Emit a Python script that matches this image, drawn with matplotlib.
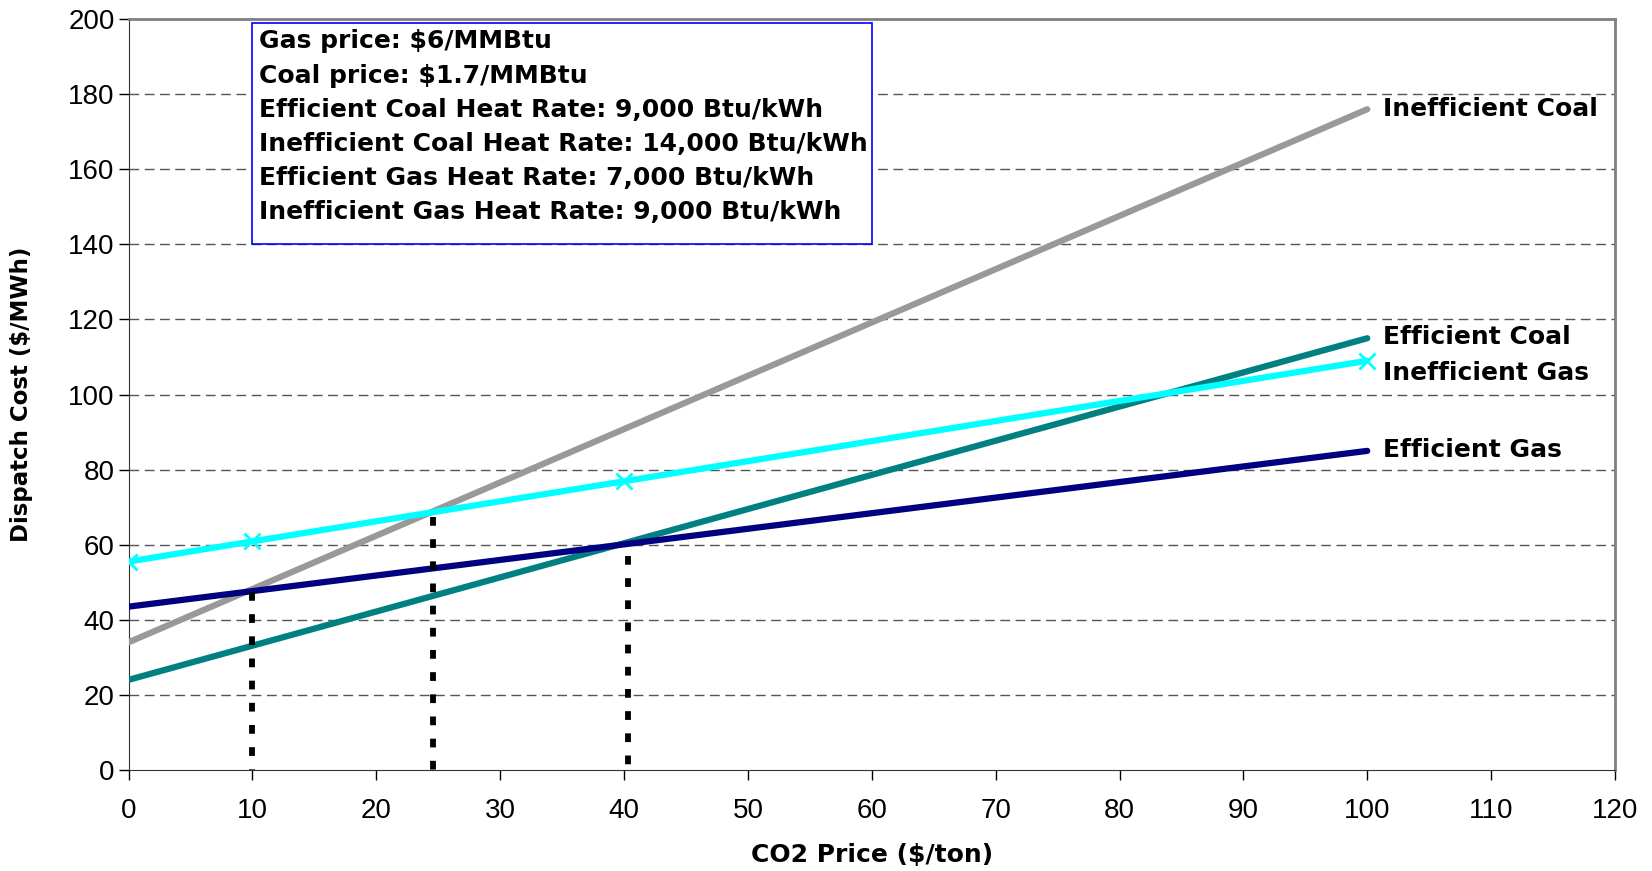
import matplotlib
matplotlib.use("Agg")
import matplotlib.pyplot as plt
from matplotlib.patches import Rectangle

plt.rcParams['font.family'] = ['Liberation Sans', 'DejaVu Sans']

# data
co2_ends = [0, 100]
ineff_coal = [34, 176]
eff_coal = [24, 115]
eff_gas = [43.5, 85]
ineff_gas_x = [0, 10, 40, 100]
ineff_gas = [55.5, 60.9, 76.9, 109]

# dotted crossover markers
cross_x = [10, 24.6, 40.3]
cross_top = [47.5, 67.5, 57]

series_names = ["Inefficient Coal", "Efficient Coal", "Inefficient Gas", "Efficient Gas"]
label_y = [176.2, 115.3, 105.7, 85.3]

info_lines = [
    "Gas price: $6/MMBtu",
    "Coal price: $1.7/MMBtu",
    "Efficient Coal Heat Rate: 9,000 Btu/kWh",
    "Inefficient Coal Heat Rate: 14,000 Btu/kWh",
    "Efficient Gas Heat Rate: 7,000 Btu/kWh",
    "Inefficient Gas Heat Rate: 9,000 Btu/kWh",
]

bold_font = ['DejaVu Sans']
tick_font = ['Liberation Sans Narrow', 'Liberation Sans']

fig = plt.figure(figsize=(16.52, 8.71), dpi=100)
ax = fig.add_axes([0.0778, 0.116, 0.8998, 0.862])

for y in range(20, 200, 20):
    ax.axhline(y, color="#555555", lw=1, dashes=(7, 4), zorder=1)

ax.plot(co2_ends, ineff_coal, color="#999999", lw=4.5, solid_capstyle="round", zorder=3)
ax.plot(co2_ends, eff_coal, color="#008080", lw=4.5, solid_capstyle="round", zorder=3)
ax.plot(ineff_gas_x, ineff_gas, color="#00FFFF", lw=4.5, marker="x", ms=11, mew=2,
        solid_capstyle="round", zorder=3)
ax.plot(co2_ends, eff_gas, color="#000080", lw=4.5, solid_capstyle="round", zorder=3)

for x, top in zip(cross_x, cross_top):
    ax.plot([x, x], [top, 0], color="black", lw=4.2, dashes=(1.5, 2.3),
            solid_capstyle="butt", dash_capstyle="butt", zorder=4)

for name, y in zip(series_names, label_y):
    ax.text(101.3, y, name, fontsize=18, fontweight="bold", family=bold_font,
            va="center", ha="left")

ax.add_patch(Rectangle((10, 140), 50, 59, facecolor="white", edgecolor="#0000FF",
                       lw=1.2, zorder=5))
for i, line in enumerate(info_lines):
    ax.text(10.5, 194.1 - i * 9.12, line, fontsize=18, fontweight="bold",
            family=bold_font, va="center", ha="left", zorder=6)

ax.set_xlim(0, 120)
ax.set_ylim(0, 200)
ax.set_xticks(range(0, 121, 10))
ax.set_yticks(range(0, 201, 20))
ax.tick_params(direction="out", length=7, width=1)
ax.tick_params(axis="y", pad=3)
ax.tick_params(axis="x", pad=13)
for lab in ax.get_xticklabels() + ax.get_yticklabels():
    lab.set_fontsize(20)
    lab.set_family(tick_font)

ax.spines["top"].set_color("#808080")
ax.spines["right"].set_color("#808080")
ax.spines["top"].set_linewidth(2)
ax.spines["right"].set_linewidth(2)
ax.spines["left"].set_color("#333333")
ax.spines["bottom"].set_color("#333333")

ax.set_xlabel("CO2 Price ($/ton)", fontsize=18, fontweight="bold", family=bold_font)
ax.set_ylabel("Dispatch Cost ($/MWh)", fontsize=16.5, fontweight="bold", family=bold_font)
ax.xaxis.set_label_coords(0.5, -0.097)
ax.yaxis.set_label_coords(-0.064, 0.5)

fig.savefig("out.png", dpi=100)
